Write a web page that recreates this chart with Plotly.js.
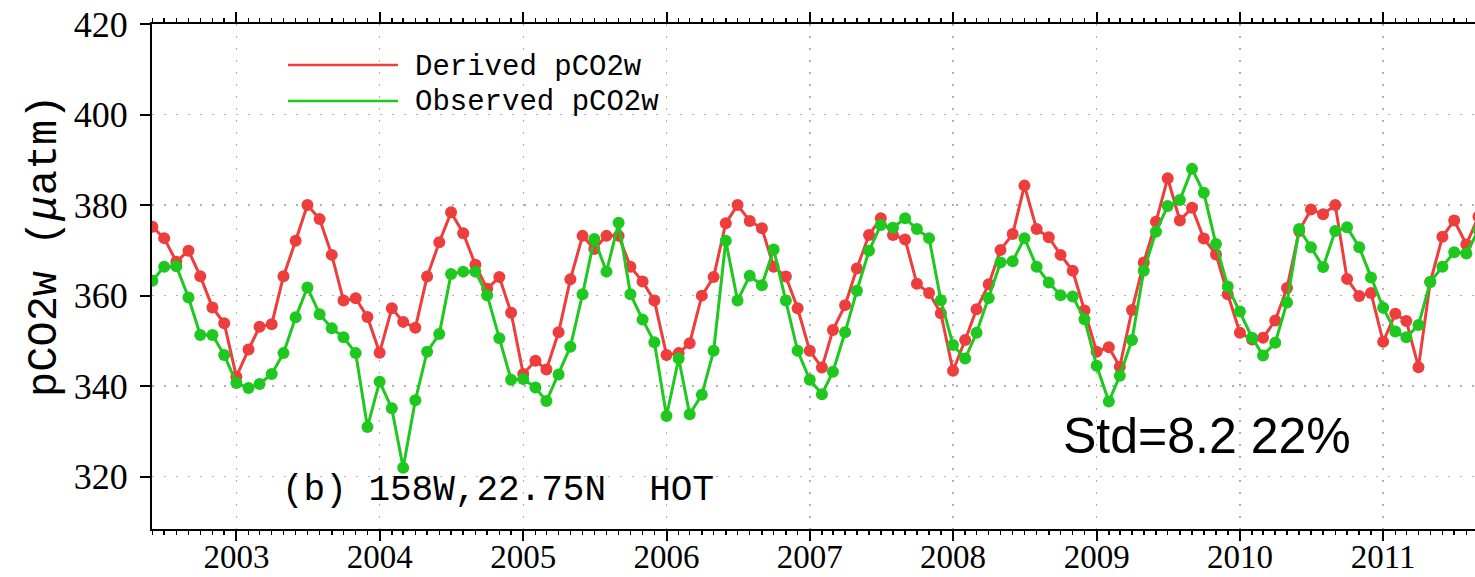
<!DOCTYPE html>
<html>
<head>
<meta charset="utf-8">
<script src="https://cdn.plot.ly/plotly-3.0.1.min.js"></script>
<style>html,body{margin:0;padding:0;background:#fff;}#chart{width:1475px;height:577px;}</style>
</head>
<body>
<div id="chart"></div>
<script>
// Monthly series, June 2002 onward
const startYear = 2002;
const startMonth = 6;
const derivedPCO2w = [
  375.2, 372.7, 367.5, 369.9, 364.3, 357.4, 353.9, 342.1, 348.1, 353.1, 353.7, 364.3,
  372.1, 380.0, 376.9, 369.0, 358.9, 359.4, 355.3, 347.4, 357.2, 354.2, 352.9, 364.2,
  371.8, 378.4, 373.8, 366.8, 361.5, 364.1, 356.2, 342.7, 345.6, 343.7, 351.9, 363.6,
  373.2, 370.3, 373.2, 373.2, 366.4, 363.1, 358.9, 346.9, 347.3, 349.5, 360.0, 364.1,
  376.0, 380.0, 376.5, 374.9, 366.4, 364.2, 357.2, 347.8, 344.1, 352.4, 357.9, 366.0,
  373.4, 377.1, 373.4, 372.4, 362.6, 360.6, 356.1, 343.4, 350.2, 357.0, 362.5, 370.1,
  373.6, 384.3, 374.7, 372.9, 369.0, 365.5, 356.7, 347.6, 348.6, 344.3, 356.8, 367.3,
  376.3, 385.9, 376.6, 379.4, 372.6, 369.1, 360.3, 351.8, 350.3, 350.7, 354.5, 361.7,
  374.3, 379.0, 378.0, 380.0, 363.7, 359.9, 360.6, 349.8, 356.0, 354.4, 344.2, 363.0,
  373.0, 376.6, 371.3, 377.5
];
const observedPCO2w = [
  363.3, 366.4, 366.5, 359.6, 351.3, 351.3, 346.9, 340.7, 339.6, 340.5, 342.7, 347.3,
  355.2, 361.8, 355.9, 352.8, 350.8, 347.3, 331.0, 341.0, 335.1, 322.0, 336.9, 347.6,
  351.5, 364.8, 365.3, 365.3, 360.1, 350.6, 341.4, 341.6, 339.7, 336.7, 342.6, 348.7,
  360.3, 372.5, 365.3, 376.1, 360.3, 354.7, 349.7, 333.4, 346.1, 333.8, 338.1, 347.8,
  372.1, 358.9, 364.4, 362.3, 370.2, 358.9, 347.8, 341.4, 338.2, 343.2, 351.9, 361.1,
  369.9, 375.6, 375.0, 377.1, 374.7, 372.7, 359.0, 349.1, 346.1, 351.8, 359.5, 367.3,
  367.6, 372.7, 366.4, 362.9, 360.1, 359.8, 354.8, 344.5, 336.6, 342.3, 350.2, 365.5,
  374.1, 379.8, 381.1, 388.0, 382.7, 371.4, 362.0, 356.5, 350.7, 346.8, 349.6, 358.5,
  374.7, 370.7, 366.3, 374.3, 375.1, 370.7, 364.0, 357.3, 352.1, 350.8, 353.5, 363.0,
  366.4, 369.6, 369.3, 374.5
];
const yTicks = [320, 340, 360, 380, 400, 420];
const seriesNames = ['Derived pCO2w', 'Observed pCO2w'];
const seriesColors = ['#ee3d3d', '#1ec81e'];
const yTitle = 'pCO2w (<i>μ</i>atm)';
const stationLabel = '(b) 158W,22.75N \u00a0HOT';
const statLabel = 'Std=8.2 22%';

const dates = derivedPCO2w.map((_, i) => {
  const m = startMonth - 1 + i;
  const y = startYear + Math.floor(m / 12);
  const mm = (m % 12) + 1;
  return y + '-' + String(mm).padStart(2, '0') + '-01';
});

const mk = (vals, k) => ({
  x: dates, y: vals, type: 'scatter', mode: 'lines+markers', name: seriesNames[k],
  line: {color: seriesColors[k], width: 3},
  marker: {color: seriesColors[k], size: 12},
  showlegend: false
});

const xTickFont = {family: 'Liberation Serif, serif', size: 33, color: '#000'};
const yTickFont = {family: 'Liberation Serif, serif', size: 36, color: '#000'};
const monoFont = {family: 'Liberation Mono, monospace', color: '#000'};
const gridDash = '2px,10px';

const layout = {
  width: 1475, height: 577,
  margin: {l: 152, r: 0, t: 24, b: 48},
  paper_bgcolor: '#fff', plot_bgcolor: '#fff',
  showlegend: false,
  xaxis: {
    type: 'date', range: ['2002-05-31', '2011-08-23'],
    tick0: '2003-01-01', dtick: 'M12', tickformat: '%Y',
    ticks: 'outside', ticklen: 10, tickwidth: 2, tickcolor: '#000',
    ticklabelstandoff: -13,
    showline: true, linecolor: '#000', linewidth: 2, mirror: 'ticks',
    showgrid: true, gridcolor: '#b0b0b0', griddash: gridDash, gridwidth: 1.5,
    zeroline: false, tickfont: xTickFont,
    minor: {dtick: 'M1', ticks: 'outside', ticklen: 4, tickwidth: 1.5, tickcolor: '#000', showgrid: false}
  },
  yaxis: {
    range: [308.45, 420], tickvals: yTicks,
    ticks: 'outside', ticklen: 10, tickwidth: 2, tickcolor: '#000',
    ticklabelstandoff: 5,
    showline: true, linecolor: '#000', linewidth: 2, mirror: false,
    showgrid: true, gridcolor: '#b0b0b0', griddash: gridDash, gridwidth: 1.5,
    zeroline: false, tickfont: yTickFont
  },
  shapes: [
    {type: 'line', xref: 'paper', yref: 'paper', x0: 0.1028, x1: 0.1859, y0: 0.9188, y1: 0.9188,
     line: {color: seriesColors[0], width: 2.5}},
    {type: 'line', xref: 'paper', yref: 'paper', x0: 0.1028, x1: 0.1859, y0: 0.8475, y1: 0.8475,
     line: {color: seriesColors[1], width: 2.5}}
  ],
  annotations: [
    {xref: 'paper', yref: 'paper', x: -0.0809, y: 0.5604, xanchor: 'center', yanchor: 'middle',
     textangle: -90, text: yTitle, showarrow: false, font: Object.assign({size: 42}, monoFont)},
    {xref: 'paper', yref: 'paper', x: 0.1973, y: 0.913, xanchor: 'left', yanchor: 'middle',
     text: seriesNames[0], showarrow: false, font: Object.assign({size: 29}, monoFont)},
    {xref: 'paper', yref: 'paper', x: 0.1973, y: 0.8436, xanchor: 'left', yanchor: 'middle',
     text: seriesNames[1], showarrow: false, font: Object.assign({size: 29}, monoFont)},
    {xref: 'paper', yref: 'paper', x: 0.0967, y: 0.0772, xanchor: 'left', yanchor: 'middle',
     text: stationLabel, showarrow: false, font: Object.assign({size: 36}, monoFont)},
    {xref: 'paper', yref: 'paper', x: 0.687, y: 0.184, xanchor: 'left', yanchor: 'middle',
     text: statLabel, showarrow: false, font: {family: 'Liberation Sans, Arial, sans-serif', size: 50, color: '#000'}}
  ]
};

Plotly.newPlot('chart', [mk(derivedPCO2w, 0), mk(observedPCO2w, 1)], layout, {displayModeBar: false, staticPlot: true});
</script>
</body>
</html>
